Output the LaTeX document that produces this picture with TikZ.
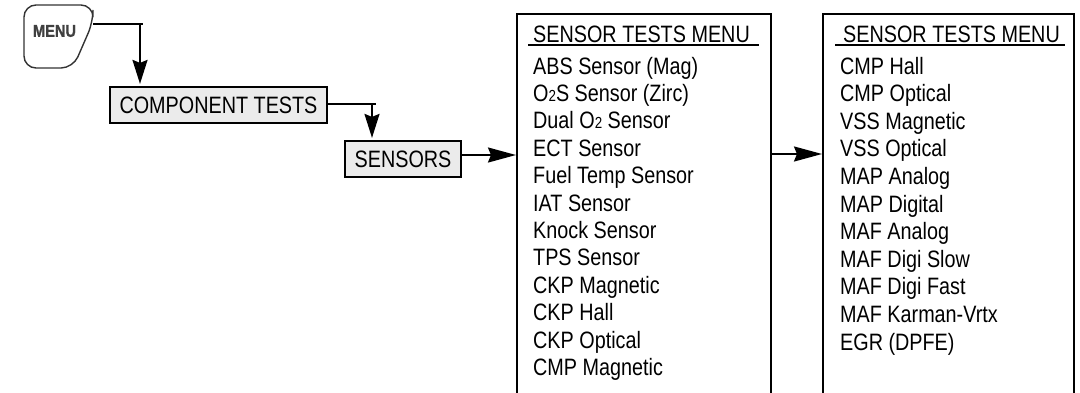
\documentclass[tikz,border=0pt]{standalone}
\usepackage{fontspec}
\setmainfont[FakeStretch=0.835]{Liberation Sans}
\newfontfamily\keyfont[FakeStretch=0.86,FakeBold=1.5]{Liberation Sans Bold}
\usetikzlibrary{arrows.meta}
\newcommand\subtwo{{\fontsize{16}{16}\selectfont 2}}
\begin{document}
\begin{tikzpicture}[x=1pt,y=-1pt,
  txt/.style={font=\fontsize{23.7}{28}\selectfont, inner sep=0pt},
  item/.style={txt, anchor=base west},
  btn/.style={draw, line width=2.2pt, fill=black!8, txt, minimum height=36pt},
  panel/.style={draw, line width=2.2pt, anchor=north west, inner sep=0pt},
  conn/.style={line width=2pt},
  arrv/.style={conn, -{Stealth[length=24pt,width=15pt,inset=3pt]}},
  arrh/.style={conn, -{Stealth[length=28pt,width=15pt,inset=3pt]}},
  keyline/.style={line width=1.4pt, draw=black!80, rounded corners=12pt},
]
\useasboundingbox (0,0) rectangle (1080,392);

% MENU key
\draw[keyline] (24,36) -- (24,5) -- (93,5) -- (93,22) -- (73,68) -- (24,68) -- cycle;
\node[font=\keyfont\fontsize{17}{17}\selectfont, text=black!75, inner sep=0pt] (menu) at (54.5,31) {MENU};
\coordinate (kout) at (93,24);
\coordinate (c1) at (140,24);

% buttons
\node[btn, minimum width=217pt] (ct) at (218.5,105) {COMPONENT TESTS};
\node[btn, minimum width=116pt] (sens) at (403,159) {SENSORS};
\coordinate (c2) at (372,104);

% panels
\node[panel, minimum width=254pt, minimum height=420pt] (p1) at (516,13) {};
\node[panel, minimum width=251pt, minimum height=420pt] (p2) at (822,13) {};

% connectors
\draw[conn] (kout) -- ++(50,0);
\draw[arrv, shorten >=2pt] (c1) -- (c1 |- ct.north);
\draw[conn] ([yshift=1pt]ct.east) -- ++(48,0);
\draw[arrv, shorten >=2pt] (c2) -- (c2 |- sens.north);
\draw[arrh] ([yshift=4pt]sens.east) -- ([yshift=4pt]sens.east -| p1.west);
\draw[arrh] ([yshift=5pt]sens.east -| p1.east) -- ([yshift=5pt]sens.east -| p2.west);

% panel 1
\node[item] (h1) at (533,42) {SENSOR TESTS MENU};
\draw[line width=2pt] ([xshift=-5pt,yshift=-3pt]h1.base west) -- ([xshift=9pt,yshift=-3pt]h1.base east);
\foreach \t [count=\i] in {ABS Sensor (Mag), {O\subtwo S Sensor (Zirc)}, {Dual O\subtwo{} Sensor}, ECT Sensor, Fuel Temp Sensor, IAT Sensor, Knock Sensor, TPS Sensor, CKP Magnetic, CKP Hall, CKP Optical, CMP Magnetic}
  \node[item] (a\i) at (533,{74+27.4*(\i-1)}) {\t};

% panel 2
\node[item] (h2) at (843,42) {SENSOR TESTS MENU};
\draw[line width=2pt] ([xshift=-8pt,yshift=-3pt]h2.base west) -- ([xshift=5pt,yshift=-3pt]h2.base east);
\foreach \t [count=\i] in {CMP Hall, CMP Optical, VSS Magnetic, VSS Optical, MAP Analog, MAP Digital, MAF Analog, MAF Digi Slow, MAF Digi Fast, MAF Karman-Vrtx, EGR (DPFE)}
  \node[item] (b\i) at (840,{74+27.6*(\i-1)}) {\t};
\end{tikzpicture}
\end{document}
